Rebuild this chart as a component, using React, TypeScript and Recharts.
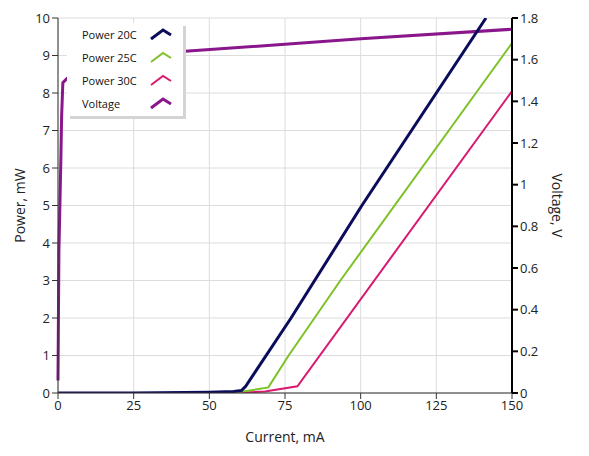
import { LineChart, Line, XAxis, YAxis, CartesianGrid } from "recharts";

// Power curves at three temperatures (current mA -> power mW)
const current20 = [0, 25, 50, 58, 60.7, 62, 77, 100.4, 141.4];
const power20 = [0, 0, 0.02, 0.04, 0.07, 0.18, 2, 5, 10];

const current25 = [0, 50, 61.3, 69.5, 76.2, 93.3, 150];
const power25 = [0, 0, 0.04, 0.15, 1, 3, 9.33];

const current30 = [0, 57, 68.4, 79.1, 150];
const power30 = [0, 0, 0.04, 0.18, 8.05];

// Voltage curve (current mA -> V)
const currentV = [0, 0.1, 0.3, 0.9, 1.2, 1.6, 3.0, 42, 100, 150];
const voltage = [0.06, 0.27, 0.68, 1.09, 1.33, 1.49, 1.51, 1.64, 1.7, 1.746];

const xTicks = [0, 25, 50, 75, 100, 125, 150];
const powerTicks = [0, 1, 2, 3, 4, 5, 6, 7, 8, 9, 10];
const voltTicks = [0, 0.2, 0.4, 0.6, 0.8, 1, 1.2, 1.4, 1.6, 1.8];

const series = [
  { name: "Power 20C", color: "#0c0c5c", width: 3 },
  { name: "Power 25C", color: "#7cc125", width: 2 },
  { name: "Power 30C", color: "#d71a70", width: 2 },
  { name: "Voltage", color: "#8a168c", width: 3 },
];

const zip = (xs: number[], ys: number[]) => xs.map((x, i) => ({ x, y: ys[i] }));

const FONT = "'Open Sans', 'Noto Sans', sans-serif";

function ChartLegend() {
  return (
    <div
      style={{
        position: "absolute",
        left: 67,
        top: 23,
        width: 116,
        height: 93,
        background: "#fff",
        boxShadow: "3px 3px 0 #d4d4d4",
        fontFamily: FONT,
        fontSize: 11,
        color: "#111",
      }}
    >
      {series.map((s, i) => (
        <div
          key={s.name}
          style={{ position: "absolute", left: 15, top: 4 + i * 23, height: 16, width: 100 }}
        >
          <span style={{ position: "absolute", left: 0, top: 0, lineHeight: "16px" }}>{s.name}</span>
          <svg width={26} height={14} style={{ position: "absolute", left: 67, top: 0 }}>
            <polyline
              points="2,12 14,3 22,8"
              fill="none"
              stroke={s.color}
              strokeWidth={s.width}
            />
          </svg>
        </div>
      ))}
    </div>
  );
}

export default function App() {
  return (
    <div style={{ position: "absolute", left: 0, top: 0, width: 589, height: 456, fontFamily: FONT, background: "#fff" }}>
      <LineChart width={589} height={456} margin={{ top: 18, right: 0, bottom: 0, left: 0 }}>
        <CartesianGrid stroke="#dcdcdc" yAxisId="power" />
        <XAxis
          dataKey="x"
          type="number"
          domain={[0, 150]}
          ticks={xTicks}
          height={63}
          stroke="#333"
          tick={{ fill: "#222", fontSize: 13 }}
          label={{ value: "Current, mA", position: "insideBottom", offset: 14, fill: "#222", fontSize: 14 }}
        />
        <YAxis
          yAxisId="power"
          orientation="left"
          type="number"
          domain={[0, 10]}
          ticks={powerTicks}
          allowDataOverflow
          width={58}
          stroke="#333"
          tick={{ fill: "#222", fontSize: 13 }}
          label={{ value: "Power, mW", angle: -90, position: "insideLeft", offset: 20, fill: "#222", fontSize: 14, style: { textAnchor: "middle" } }}
        />
        <YAxis
          yAxisId="volt"
          orientation="right"
          type="number"
          domain={[0, 1.8]}
          ticks={voltTicks}
          width={77}
          stroke="#000"
          strokeWidth={2}
          tickFormatter={(v: number) => String(+v.toFixed(1))}
          tick={{ fill: "#222", fontSize: 13 }}
          label={{ value: "Voltage, V", angle: 90, position: "insideRight", offset: 32, fill: "#222", fontSize: 14, style: { textAnchor: "middle" } }}
        />
        <Line
          yAxisId="volt"
          data={zip(currentV, voltage)}
          dataKey="y"
          stroke={series[3].color}
          strokeWidth={3}
          dot={false}
          type="linear"
          isAnimationActive={false}
        />
        <Line
          yAxisId="power"
          data={zip(current30, power30)}
          dataKey="y"
          stroke={series[2].color}
          strokeWidth={2}
          dot={false}
          type="linear"
          isAnimationActive={false}
        />
        <Line
          yAxisId="power"
          data={zip(current25, power25)}
          dataKey="y"
          stroke={series[1].color}
          strokeWidth={2}
          dot={false}
          type="linear"
          isAnimationActive={false}
        />
        <Line
          yAxisId="power"
          data={zip(current20, power20)}
          dataKey="y"
          stroke={series[0].color}
          strokeWidth={3}
          dot={false}
          type="linear"
          isAnimationActive={false}
        />
      </LineChart>
      <ChartLegend />
    </div>
  );
}
